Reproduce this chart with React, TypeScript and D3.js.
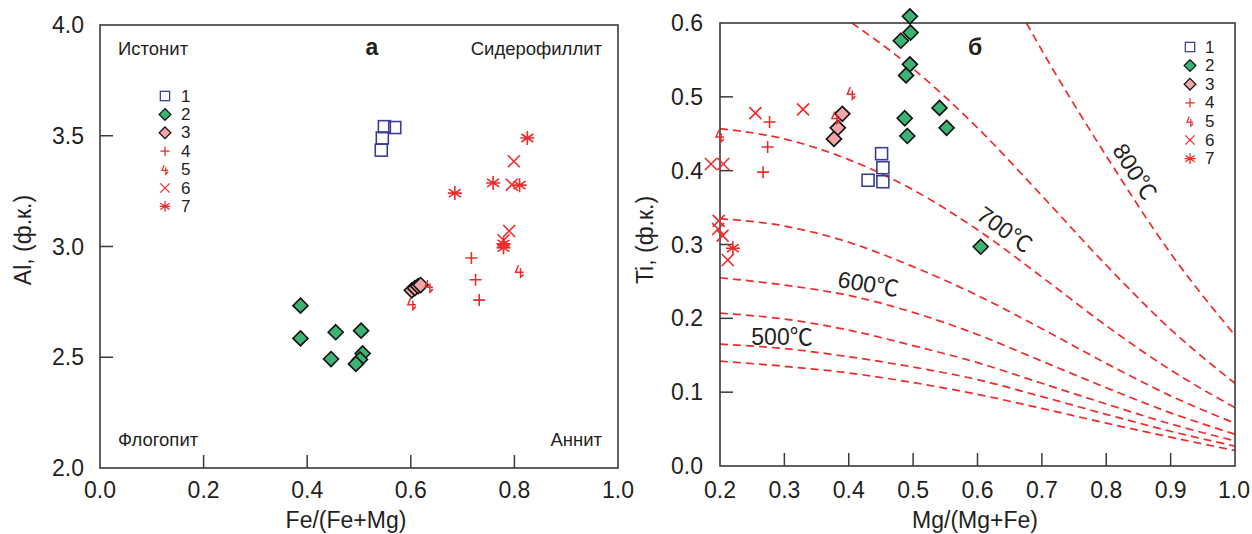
import React from "react";
import * as d3 from "d3";

// ---------- data: left panel (Fe/(Fe+Mg) vs Al) ----------
const left1 = [[0.549, 3.541], [0.569, 3.537], [0.545, 3.49], [0.543, 3.435]];
const left2 = [[0.387, 2.733], [0.387, 2.585], [0.455, 2.613], [0.504, 2.62], [0.446, 2.492], [0.507, 2.517], [0.502, 2.49], [0.494, 2.47]];
const left3 = [[0.602, 2.802], [0.608, 2.812], [0.614, 2.821], [0.619, 2.826]];
const left4 = [[0.717, 2.948], [0.725, 2.85], [0.732, 2.758]];
const left5 = [[0.635, 2.821], [0.602, 2.742], [0.81, 2.888]];
const left6 = [[0.799, 3.385], [0.795, 3.279], [0.79, 3.07], [0.779, 3.028]];
const left7 = [[0.825, 3.49], [0.759, 3.287], [0.81, 3.277], [0.685, 3.241], [0.779, 3.012], [0.779, 2.995]];

// ---------- data: right panel (Mg/(Mg+Fe) vs Ti) ----------
const right1 = [[0.451, 0.423], [0.453, 0.404], [0.43, 0.387], [0.453, 0.385]];
const right2 = [[0.495, 0.609], [0.496, 0.587], [0.481, 0.576], [0.495, 0.544], [0.489, 0.529], [0.541, 0.485], [0.552, 0.458], [0.487, 0.471], [0.491, 0.447], [0.605, 0.297]];
const right3 = [[0.39, 0.477], [0.383, 0.458], [0.377, 0.443]];
const right4 = [[0.277, 0.466], [0.274, 0.432], [0.267, 0.398]];
const right5 = [[0.404, 0.505], [0.38, 0.472], [0.2, 0.447]];
const right6 = [[0.255, 0.478], [0.329, 0.483], [0.186, 0.409], [0.205, 0.409], [0.198, 0.332], [0.197, 0.321], [0.204, 0.312], [0.212, 0.279]];
const right7 = [[0.22, 0.295]];

// ---------- isotherms ----------
const isoX = [0.2, 0.3, 0.4, 0.5, 0.6, 0.7, 0.8, 0.9, 1.0];
const iso450 = [0.142, 0.135, 0.126, 0.113, 0.097, 0.078, 0.058, 0.039, 0.021];
const iso500 = [0.165, 0.159, 0.148, 0.134, 0.117, 0.094, 0.07, 0.047, 0.027];
const iso550 = [0.207, 0.199, 0.184, 0.163, 0.14, 0.112, 0.084, 0.057, 0.034];
const iso600 = [0.255, 0.245, 0.231, 0.208, 0.178, 0.142, 0.106, 0.072, 0.043];
const iso650 = [0.335, 0.325, 0.303, 0.27, 0.231, 0.186, 0.139, 0.095, 0.058];
const iso700 = [0.457, 0.443, 0.415, 0.374, 0.32, 0.256, 0.19, 0.13, 0.079];
const iso750X = [0.405, 0.5, 0.6, 0.7, 0.8, 0.9, 1.0];
const iso750 = [0.6, 0.538, 0.458, 0.366, 0.272, 0.185, 0.112];
const iso800X = [0.676, 0.7, 0.8, 0.9, 1.0];
const iso800 = [0.6, 0.563, 0.42, 0.288, 0.177];

const leftXTicks = [0, 0.2, 0.4, 0.6, 0.8, 1.0];
const leftYTicks = [2.0, 2.5, 3.0, 3.5, 4.0];
const rightXTicks = [0.2, 0.3, 0.4, 0.5, 0.6, 0.7, 0.8, 0.9, 1.0];
const rightYTicks = [0, 0.1, 0.2, 0.3, 0.4, 0.5, 0.6];
const legendLabels = ["1", "2", "3", "4", "5", "6", "7"];

const FONT = "'Liberation Sans', Arial, 'Noto Sans CJK SC', sans-serif";
const TXT = "#231f20";
const RED = "#ee2a2a";
const BLUE = "#3a3c98";
const GREEN = "#3cb371";
const PINK = "#f4a6a6";

function Marker({ type, x, y, s = 1 }: { type: number; x: number; y: number; s?: number }) {
  const t = `translate(${x},${y}) scale(${s})`;
  switch (type) {
    case 1:
      return <rect transform={t} x={-6} y={-6} width={12} height={12} fill="none" stroke={BLUE} strokeWidth={1.6} />;
    case 2:
      return <path transform={t} d="M0,-7.5L7.5,0L0,7.5L-7.5,0Z" fill={GREEN} stroke="#111" strokeWidth={1.6} />;
    case 3:
      return <path transform={t} d="M0,-7.5L7.5,0L0,7.5L-7.5,0Z" fill={PINK} stroke="#111" strokeWidth={1.6} />;
    case 4:
      return <path transform={t} d="M-6,0H6M0,-6V6" stroke={RED} strokeWidth={1.6} fill="none" />;
    case 5:
      return <path transform={t} d="M-1,-6L-4,1H4M1,-3L1,6L4,3" stroke={RED} strokeWidth={1.5} fill="none" />;
    case 6:
      return <path transform={t} d="M-6,-6L6,6M-6,6L6,-6" stroke={RED} strokeWidth={1.6} fill="none" />;
    default:
      return <path transform={t} d="M0,-7V7M-6,-4L6,4M-6,4L6,-4M-7,0H7" stroke={RED} strokeWidth={1.6} fill="none" />;
  }
}

export default function App() {
  // left panel scales
  const xL = d3.scaleLinear().domain([0, 1]).range([100, 618]);
  const yL = d3.scaleLinear().domain([2, 4]).range([468, 25]);
  // right panel scales
  const xR = d3.scaleLinear().domain([0.2, 1]).range([720, 1235]);
  const yR = d3.scaleLinear().domain([0, 0.6]).range([466, 23]);

  const leftSeries = [left1, left2, left3, left4, left5, left6, left7];
  const rightSeries = [right1, right2, right3, right4, right5, right6, right7];

  const line = d3
    .line<[number, number]>()
    .x((d) => xR(d[0]))
    .y((d) => yR(d[1]))
    .curve(d3.curveMonotoneX);

  const isoCurves: [number, number][][] = [
    isoX.map((x, i) => [x, iso450[i]] as [number, number]),
    isoX.map((x, i) => [x, iso500[i]] as [number, number]),
    isoX.map((x, i) => [x, iso550[i]] as [number, number]),
    isoX.map((x, i) => [x, iso600[i]] as [number, number]),
    isoX.map((x, i) => [x, iso650[i]] as [number, number]),
    isoX.map((x, i) => [x, iso700[i]] as [number, number]),
    iso750X.map((x, i) => [x, iso750[i]] as [number, number]),
    iso800X.map((x, i) => [x, iso800[i]] as [number, number]),
  ];

  const frame = "#3a3a3a";
  const tickLen = 13;

  return (
    <svg
      width={1252}
      height={534}
      style={{ position: "absolute", left: 0, top: 0, background: "#fff" }}
      fontFamily={FONT}
    >
      <defs>
        <clipPath id="clipR">
          <rect x={xR(0.2)} y={yR(0.6)} width={xR(1) - xR(0.2)} height={yR(0) - yR(0.6)} />
        </clipPath>
      </defs>

      {/* ================= LEFT PANEL ================= */}
      <g>
        {leftXTicks.slice(1, -1).map((t) => (
          <line key={"lxt" + t} x1={xL(t)} x2={xL(t)} y1={yL(2)} y2={yL(2) - tickLen} stroke={frame} strokeWidth={1.5} />
        ))}
        {leftYTicks.slice(1, -1).map((t) => (
          <line key={"lyt" + t} x1={xL(0)} x2={xL(0) + tickLen} y1={yL(t)} y2={yL(t)} stroke={frame} strokeWidth={1.5} />
        ))}
        <rect x={xL(0)} y={yL(4)} width={xL(1) - xL(0)} height={yL(2) - yL(4)} fill="none" stroke={frame} strokeWidth={1.6} />
        {leftXTicks.map((t) => (
          <text key={"lxl" + t} x={xL(t)} y={498} textAnchor="middle" fontSize={23} fill={TXT}>
            {t.toFixed(1)}
          </text>
        ))}
        {leftYTicks.map((t) => (
          <text key={"lyl" + t} x={84} y={yL(t)} textAnchor="end" dominantBaseline="central" fontSize={23} fill={TXT}>
            {t.toFixed(1)}
          </text>
        ))}
        <text x={346} y={528} textAnchor="middle" fontSize={23} fill={TXT}>Fe/(Fe+Mg)</text>
        <text transform="translate(31,240) rotate(-90)" textAnchor="middle" fontSize={23} fill={TXT}>Al, (ф.к.)</text>

        <text x={118} y={55} fontSize={18.5} fill={TXT}>Истонит</text>
        <text x={372} y={55} textAnchor="middle" fontSize={23} fontWeight="bold" fill={TXT}>а</text>
        <text x={602} y={55} textAnchor="end" fontSize={18.5} fill={TXT}>Сидерофиллит</text>
        <text x={118} y={446} fontSize={18.5} fill={TXT}>Флогопит</text>
        <text x={602} y={446} textAnchor="end" fontSize={18.5} fill={TXT}>Аннит</text>

        {legendLabels.map((lab, i) => (
          <g key={"ll" + i}>
            <Marker type={i + 1} x={165} y={96 + i * 18.4} s={0.78} />
            <text x={181} y={96 + i * 18.4} dominantBaseline="central" fontSize={17} fill={TXT}>{lab}</text>
          </g>
        ))}

        {leftSeries.map((ser, si) =>
          ser.map((d, i) => <Marker key={`lp${si}-${i}`} type={si + 1} x={xL(d[0])} y={yL(d[1])} />)
        )}
      </g>

      {/* ================= RIGHT PANEL ================= */}
      <g>
        {rightXTicks.slice(1, -1).map((t) => (
          <line key={"rxt" + t} x1={xR(t)} x2={xR(t)} y1={yR(0)} y2={yR(0) - tickLen} stroke={frame} strokeWidth={1.5} />
        ))}
        {rightYTicks.slice(1, -1).map((t) => (
          <line key={"ryt" + t} x1={xR(0.2)} x2={xR(0.2) + tickLen} y1={yR(t)} y2={yR(t)} stroke={frame} strokeWidth={1.5} />
        ))}

        <g clipPath="url(#clipR)">
          {isoCurves.map((c, i) => (
            <path key={"iso" + i} d={line(c) || ""} fill="none" stroke={RED} strokeWidth={1.7} strokeDasharray="8 5" />
          ))}
        </g>

        <rect x={xR(0.2)} y={yR(0.6)} width={xR(1) - xR(0.2)} height={yR(0) - yR(0.6)} fill="none" stroke={frame} strokeWidth={1.6} />

        {rightXTicks.map((t) => (
          <text key={"rxl" + t} x={Math.min(xR(t), 1234)} y={498} textAnchor="middle" fontSize={23} fill={TXT}>
            {t.toFixed(1)}
          </text>
        ))}
        {rightYTicks.map((t) => (
          <text key={"ryl" + t} x={703} y={yR(t)} textAnchor="end" dominantBaseline="central" fontSize={23} fill={TXT}>
            {t.toFixed(1)}
          </text>
        ))}
        <text x={975} y={528} textAnchor="middle" fontSize={23} fill={TXT}>Mg/(Mg+Fe)</text>
        <text transform="translate(653,240) rotate(-90)" textAnchor="middle" fontSize={23} fill={TXT}>Ti, (ф.к.)</text>

        <text x={975} y={55} textAnchor="middle" fontSize={23} fontWeight="bold" fill={TXT}>б</text>

        <text x={782} y={345} textAnchor="middle" fontSize={23} fill={TXT}>500℃</text>
        <text transform="translate(867,292) rotate(10)" textAnchor="middle" fontSize={23} fill={TXT}>600℃</text>
        <text transform="translate(1000,236) rotate(36)" textAnchor="middle" fontSize={23} fill={TXT}>700℃</text>
        <text transform="translate(1128,176) rotate(58)" textAnchor="middle" fontSize={23} fill={TXT}>800℃</text>

        {legendLabels.map((lab, i) => (
          <g key={"rl" + i}>
            <Marker type={i + 1} x={1190} y={47 + i * 18.6} s={0.78} />
            <text x={1205} y={47 + i * 18.6} dominantBaseline="central" fontSize={17} fill={TXT}>{lab}</text>
          </g>
        ))}

        {rightSeries.map((ser, si) =>
          ser.map((d, i) => <Marker key={`rp${si}-${i}`} type={si + 1} x={xR(d[0])} y={yR(d[1])} />)
        )}
      </g>
    </svg>
  );
}
